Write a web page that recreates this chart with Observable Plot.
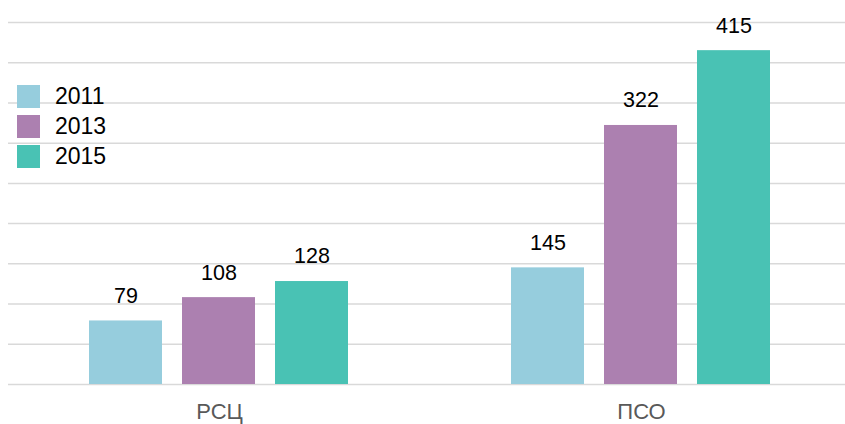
<!DOCTYPE html>
<html>
<head>
<meta charset="utf-8">
<script src="https://cdn.jsdelivr.net/npm/d3@7"></script>
<script src="https://cdn.jsdelivr.net/npm/@observablehq/plot@0.6"></script>
<style>
  html, body { margin: 0; padding: 0; background: #fff; overflow: hidden; }
  #wrap { position: relative; width: 845px; height: 424px; }
  #legend { position: absolute; left: 17px; top: 81.5px; font-family: "Liberation Sans", Arial, sans-serif; font-size: 23px; color: #000; }
  .item { display: flex; align-items: center; height: 30px; }
  .sw { width: 23px; height: 23px; margin-right: 15px; }
  .item span.t { line-height: 23px; }
</style>
</head>
<body>
<div id="wrap"><div id="legend"></div></div>
<script>
// Categories and series
const categories = ["РСЦ", "ПСО"];
const years = ["2011", "2013", "2015"];
const values2011 = [79, 145];
const values2013 = [108, 322];
const values2015 = [128, 415];
const colors = ["#96cddd", "#ac80b0", "#49c2b4"];
const yTicks = [0, 50, 100, 150, 200, 250, 300, 350, 400, 450];

const series = [values2011, values2013, values2015];
const rows = [];
categories.forEach((c, i) => {
  years.forEach((yr, j) => rows.push({category: c, year: yr, value: series[j][i]}));
});

const chart = Plot.plot({
  width: 845,
  height: 424,
  marginTop: 22,
  marginBottom: 40,
  marginLeft: 7,
  marginRight: -7,
  style: {fontFamily: "'Liberation Sans', Arial, sans-serif", background: "white", overflow: "hidden"},
  fx: {domain: categories, padding: 0, label: null},
  x: {domain: years, paddingInner: 0.215, paddingOuter: 0.868, axis: null},
  y: {domain: [0, 450], axis: null},
  color: {domain: years, range: colors},
  marks: [
    Plot.ruleY(yTicks, {stroke: "#d9d9d9", strokeWidth: 1.5}),
    Plot.barY(rows, {fx: "category", x: "year", y: "value", fill: "year"}),
    Plot.text(rows, {fx: "category", x: "year", y: "value", text: d => String(d.value), dy: -25, fontSize: 21.5, fill: "#000"}),
    Plot.axisFx({anchor: "bottom", tickSize: 0, tickPadding: 19, fontSize: 22, color: "#595959", label: null})
  ]
});
document.getElementById("wrap").prepend(chart);

// Legend overlaid on the plot area
const legend = d3.select("#legend");
years.forEach((yr, i) => {
  const item = legend.append("div").attr("class", "item");
  item.append("div").attr("class", "sw").style("background", colors[i]);
  item.append("span").attr("class", "t").text(yr);
});
</script>
</body>
</html>
